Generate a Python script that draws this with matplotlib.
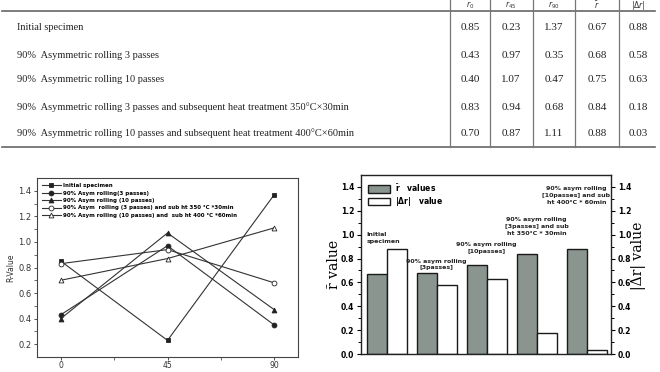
import matplotlib
matplotlib.use("Agg")
from matplotlib import pyplot as plt
from matplotlib.patches import Patch
import numpy as np

# table / chart data
angles = [0, 45, 90]
row_labels = [
    "Initial specimen",
    "90%  Asymmetric rolling 3 passes",
    "90%  Asymmetric rolling 10 passes",
    "90%  Asymmetric rolling 3 passes and subsequent heat treatment 350°C×30min",
    "90%  Asymmetric rolling 10 passes and subsequent heat treatment 400°C×60min",
]
col_heads = [r"$r_0$", r"$r_{45}$", r"$r_{90}$", r"$\bar{r}$", r"$|\Delta r|$"]
r0 = [0.85, 0.43, 0.40, 0.83, 0.70]
r45 = [0.23, 0.97, 1.07, 0.94, 0.87]
r90 = [1.37, 0.35, 0.47, 0.68, 1.11]
r_mean = [0.67, 0.68, 0.75, 0.84, 0.88]
delta_r = [0.88, 0.58, 0.63, 0.18, 0.03]

legend_left = [
    "Initial specimen",
    "90% Asym rolling(3 passes)",
    "90% Asym rolling (10 passes)",
    "90% Asym  rolling (3 passes) and sub ht 350 °C *30min",
    "90% Asym rolling (10 passes) and  sub ht 400 °C *60min",
]
bar_notes = [
    "Initial\nspecimen",
    "90% asym rolling\n[3passes]",
    "90% asym rolling\n[10passes]",
    "90% asym rolling\n[3passes] and sub\nht 350°C * 30min",
    "90% asym rolling\n[10passes] and sub\nht 400°C * 60min",
]

W, H = 660, 372
fig = plt.figure(figsize=(W / 100, H / 100), dpi=100)

# ---------------- table on top ----------------
tb = fig.add_axes([0, 0, 1, 1])
tb.set_xlim(0, W)
tb.set_ylim(H, 0)
tb.axis('off')

col_lines = [450, 490, 533, 575, 619]
col_cent = [470, 511, 554, 597, 638]
row_y = [28, 55, 80, 107, 133]
tb.plot([2, 655], [11, 11], color='#666666', lw=1.2)
tb.plot([2, 655], [147, 147], color='#666666', lw=1.2)
for x in col_lines:
    tb.plot([x, x], [0, 147], color='#777777', lw=0.9)
for j in range(5):
    tb.text(col_cent[j], 5.5, col_heads[j], ha='center', va='center',
            fontsize=5.5, family='Liberation Serif', color='#333333')

values = [r0, r45, r90, r_mean, delta_r]
for i, lab in enumerate(row_labels):
    tb.text(17, row_y[i], lab, ha='left', va='center', fontsize=7.5,
            family='Liberation Serif', color='#222222')
    for j in range(5):
        tb.text(col_cent[j], row_y[i], f"{values[j][i]:.2f}", ha='center',
                va='center', fontsize=8, family='Liberation Serif', color='#222222')

# ---------------- left chart: R-value vs angle ----------------
ax1 = fig.add_axes([37 / W, 1 - 357 / H, 261 / W, 179 / H])
markers = ['s', 'o', '^', 'o', '^']
faces = ['#222222', '#222222', '#222222', 'white', 'white']
for i in range(5):
    ys = [r0[i], r45[i], r90[i]]
    ax1.plot(angles, ys, color='#333333', lw=0.8, marker=markers[i],
             markersize=3.5, markerfacecolor=faces[i], markeredgecolor='#222222',
             markeredgewidth=0.6, label=legend_left[i])
ax1.set_xlim(-10, 100)
ax1.set_ylim(0.1, 1.5)
ax1.set_xticks(angles)
ax1.set_xticks([22.5, 67.5], minor=True)
ax1.set_yticks(np.arange(0.2, 1.41, 0.2))
ax1.set_yticks(np.arange(0.3, 1.41, 0.2), minor=True)
ax1.set_yticklabels([f"{v:.1f}" for v in np.arange(0.2, 1.41, 0.2)])
ax1.tick_params(axis='both', which='major', labelsize=6, length=2.5, width=0.6,
                colors='#333333', pad=1.5)
ax1.tick_params(axis='x', which='major', labelsize=5.5, length=2, pad=1)
ax1.tick_params(axis='both', which='minor', length=2, width=0.5, colors='#333333')
for sp in ax1.spines.values():
    sp.set_linewidth(0.8)
    sp.set_color('#444444')
ax1.set_ylabel("R-Value", fontsize=5.5, labelpad=2, color='#333333')
ax1.legend(loc='upper left', frameon=False, handlelength=3.4,
           labelspacing=0.45, borderaxespad=0.5, handletextpad=0.3,
           prop={'size': 4, 'weight': 'bold'})

# ---------------- right chart: r-bar and delta r bars ----------------
ax2 = fig.add_axes([361 / W, 1 - 354 / H, 250 / W, 179 / H])
xs = np.arange(len(r_mean))
bw = 0.4
ax2.bar(xs - bw / 2, r_mean, width=bw, color='#8b9590', edgecolor='#1a1a1a', lw=1.0)
ax2.bar(xs + bw / 2, delta_r, width=bw, color='white', edgecolor='#1a1a1a', lw=1.0)
ax2.set_xlim(-0.51, 4.49)
ax2.set_ylim(0, 1.5)
ax2.set_xticks([])
ax2.set_yticks(np.arange(0, 1.41, 0.2))
ax2.set_yticks(np.arange(0.1, 1.41, 0.2), minor=True)
ax2.set_yticklabels([f"{v:.1f}" for v in np.arange(0, 1.41, 0.2)])
ax2.tick_params(axis='y', which='both', left=True, right=True, labelleft=True,
                labelright=True, direction='out')
ax2.tick_params(axis='y', which='major', length=3, width=0.8, labelsize=5.5, pad=2)
ax2.tick_params(axis='y', which='minor', length=2, width=0.7)
for t in ax2.get_yticklabels():
    t.set_fontweight('bold')
for sp in ax2.spines.values():
    sp.set_linewidth(1.0)
    sp.set_color('#222222')
ax2.set_ylabel("r\u0304 value", family='DejaVu Serif', fontsize=10, labelpad=0)
ax2.text(1.11, 0.55, "|\u0394r| value", transform=ax2.transAxes, rotation=90,
         ha='center', va='center', family='DejaVu Serif', fontsize=10)

handles = [Patch(facecolor='#8b9590', edgecolor='#1a1a1a', lw=1.0),
           Patch(facecolor='white', edgecolor='#1a1a1a', lw=1.0)]
ax2.legend(handles, [r"$\bar{\mathbf{r}}$   values", r"$\mathbf{|\Delta r|}$   value"],
           loc='upper left', frameon=False, handlelength=2.9, handleheight=1.2,
           labelspacing=0.2, borderaxespad=0.5, handletextpad=0.7,
           prop={'size': 5.5, 'weight': 'bold'})

note_x = [-0.4, 1.0, 2.0, 3.0, 3.8]
note_y = [0.92, 0.70, 0.84, 0.99, 1.25]
note_ha = ['left', 'center', 'center', 'center', 'center']
for i in range(5):
    ax2.text(note_x[i], note_y[i], bar_notes[i], ha=note_ha[i], va='bottom',
             fontsize=4.5, fontweight='bold', linespacing=1.45, color='#222222',
             multialignment='center' if note_ha[i] == 'center' else 'left')

fig.savefig("out.png", dpi=100)
